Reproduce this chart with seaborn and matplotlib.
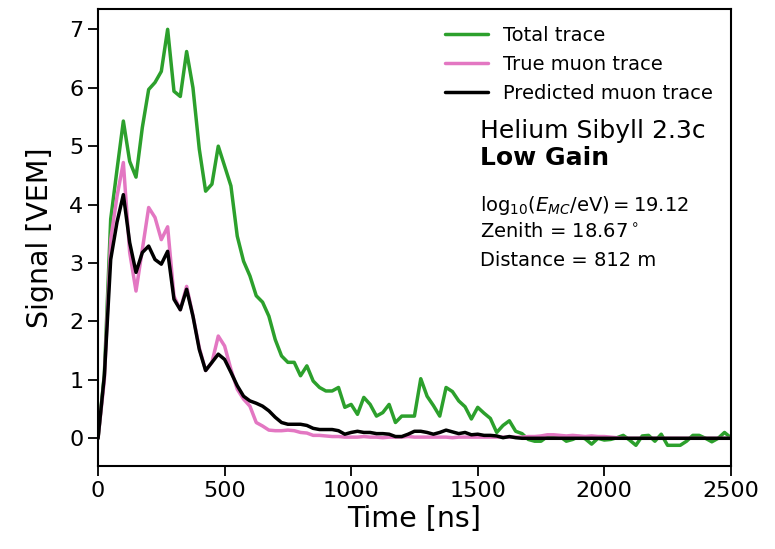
import numpy as np
import pandas as pd
import seaborn as sns
import matplotlib
matplotlib.use("Agg")
import matplotlib.pyplot as plt

# Time bins of the station trace (25 ns sampling)
time_ns = np.arange(0, 2501, 25)

total_trace = [
    0.0, 1.1, 3.75, 4.6, 5.43, 4.74, 4.47, 5.32, 5.97, 6.09,
    6.28, 7.0, 5.94, 5.85, 6.62, 6.0, 4.95, 4.23, 4.35, 5.0,
    4.66, 4.32, 3.46, 3.03, 2.78, 2.44, 2.33, 2.09, 1.69, 1.41,
    1.30, 1.30, 1.07, 1.24, 0.98, 0.87, 0.81, 0.81, 0.87, 0.53,
    0.58, 0.41, 0.70, 0.58, 0.38, 0.44, 0.58, 0.27, 0.38, 0.38,
    0.38, 1.02, 0.72, 0.56, 0.38, 0.87, 0.80, 0.64, 0.54, 0.33,
    0.53, 0.43, 0.34, 0.10, 0.22, 0.30, 0.12, 0.08, -0.02, -0.05,
    -0.05, 0.03, 0.04, 0.03, -0.05, -0.02, 0.03, -0.01, -0.10, 0.0,
    -0.03, -0.02, 0.01, 0.05, -0.03, -0.12, 0.04, 0.05, -0.05, 0.07,
    -0.12, -0.12, -0.12, -0.05, 0.05, 0.05, 0.0, -0.06, 0.0, 0.10,
    0.01,
]

true_muon = [
    0.0, 1.0, 3.4, 4.14, 4.72, 3.18, 2.52, 3.23, 3.95, 3.78,
    3.4, 3.62, 2.43, 2.2, 2.6, 2.1, 1.55, 1.16, 1.3, 1.75,
    1.58, 1.18, 0.84, 0.67, 0.55, 0.27, 0.21, 0.14, 0.13, 0.13,
    0.14, 0.13, 0.10, 0.09, 0.05, 0.05, 0.04, 0.03, 0.03, 0.02,
    0.02, 0.02, 0.03, 0.02, 0.02, 0.01, 0.02, 0.02, 0.02, 0.03,
    0.02, 0.02, 0.02, 0.02, 0.02, 0.02, 0.01, 0.02, 0.02, 0.02,
    0.02, 0.02, 0.02, 0.02, 0.02, 0.02, 0.02, 0.02, 0.03, 0.03,
    0.04, 0.06, 0.06, 0.05, 0.04, 0.05, 0.04, 0.03, 0.04, 0.03,
    0.03, 0.02, 0.01, 0.0, 0.0, 0.0, 0.0, 0.0, 0.0, 0.0,
    0.0, 0.0, 0.0, 0.0, 0.0, 0.0, 0.0, 0.0, 0.0, 0.0,
    0.0,
]

predicted_muon = [
    0.0, 1.07, 3.06, 3.7, 4.17, 3.35, 2.84, 3.18, 3.29, 3.06,
    2.98, 3.2, 2.38, 2.2, 2.55, 2.09, 1.52, 1.16, 1.3, 1.44,
    1.35, 1.13, 0.9, 0.72, 0.64, 0.6, 0.55, 0.47, 0.36, 0.27,
    0.24, 0.24, 0.24, 0.22, 0.17, 0.15, 0.15, 0.15, 0.13, 0.07,
    0.10, 0.12, 0.10, 0.10, 0.08, 0.08, 0.07, 0.03, 0.03, 0.07,
    0.12, 0.12, 0.10, 0.07, 0.10, 0.14, 0.11, 0.08, 0.10, 0.06,
    0.07, 0.05, 0.05, 0.04, 0.01, 0.03, 0.01, 0.0, 0.0, 0.0,
    0.0, 0.0, 0.0, 0.0, 0.0, 0.0, 0.0, 0.0, 0.0, 0.0,
    0.0, 0.0, 0.0, 0.0, 0.0, 0.0, 0.0, 0.0, 0.0, 0.0,
    0.0, 0.0, 0.0, 0.0, 0.0, 0.0, 0.0, 0.0, 0.0, 0.0,
    0.0,
]

series_names = ["Total trace", "True muon trace", "Predicted muon trace"]
series_colors = ["#2ca02c", "#e377c2", "#000000"]

df = pd.DataFrame({
    "Time": np.concatenate([time_ns] * 3),
    "Signal": np.concatenate([total_trace, true_muon, predicted_muon]),
    "Trace": np.repeat(series_names, len(time_ns)),
})

sns.set_style("ticks", {
    "text.color": "black",
    "axes.labelcolor": "black",
    "axes.edgecolor": "black",
    "xtick.color": "black",
    "ytick.color": "black",
})
plt.rcParams["font.family"] = ["DejaVu Sans"]
plt.rcParams["axes.linewidth"] = 1.5

fig, ax = plt.subplots(figsize=(7.75, 5.49), dpi=100)
fig.subplots_adjust(left=0.1265, right=0.943, top=0.9845, bottom=0.151)

sns.lineplot(data=df, x="Time", y="Signal", hue="Trace",
             hue_order=series_names, palette=series_colors,
             linewidth=2.5, ax=ax)

ax.set_xlim(0, 2500)
ax.set_xticks([0, 500, 1000, 1500, 2000, 2500])
ax.set_yticks(range(0, 8))
ax.tick_params(axis="both", labelsize=16, length=7, width=1.3,
               direction="out", colors="black")
ax.set_xlabel("Time [ns]", fontsize=20.5, labelpad=3)
ax.set_ylabel("Signal [VEM]", fontsize=20.5, labelpad=11)
for side in ["top", "right", "left", "bottom"]:
    ax.spines[side].set_visible(True)

ax.legend(loc="upper right", frameon=False, fontsize=14, title=None,
          handlelength=2.2, labelspacing=0.52)

tx = 0.603
ax.text(tx, 0.717, "Helium Sibyll 2.3c", transform=ax.transAxes,
        fontsize=18, va="baseline")
ax.text(tx, 0.657, "Low Gain", transform=ax.transAxes,
        fontsize=18, fontweight="bold", va="baseline")
ax.text(tx, 0.557, r"$\mathrm{log}_{10}(E_{MC}/\mathrm{eV}) = 19.12$",
        transform=ax.transAxes, fontsize=14, va="baseline")
ax.text(tx, 0.500, r"Zenith = 18.67$^\circ$", transform=ax.transAxes,
        fontsize=14, va="baseline")
ax.text(tx, 0.437, "Distance = 812 m", transform=ax.transAxes,
        fontsize=14, va="baseline")

fig.savefig("out.png", dpi=100)
